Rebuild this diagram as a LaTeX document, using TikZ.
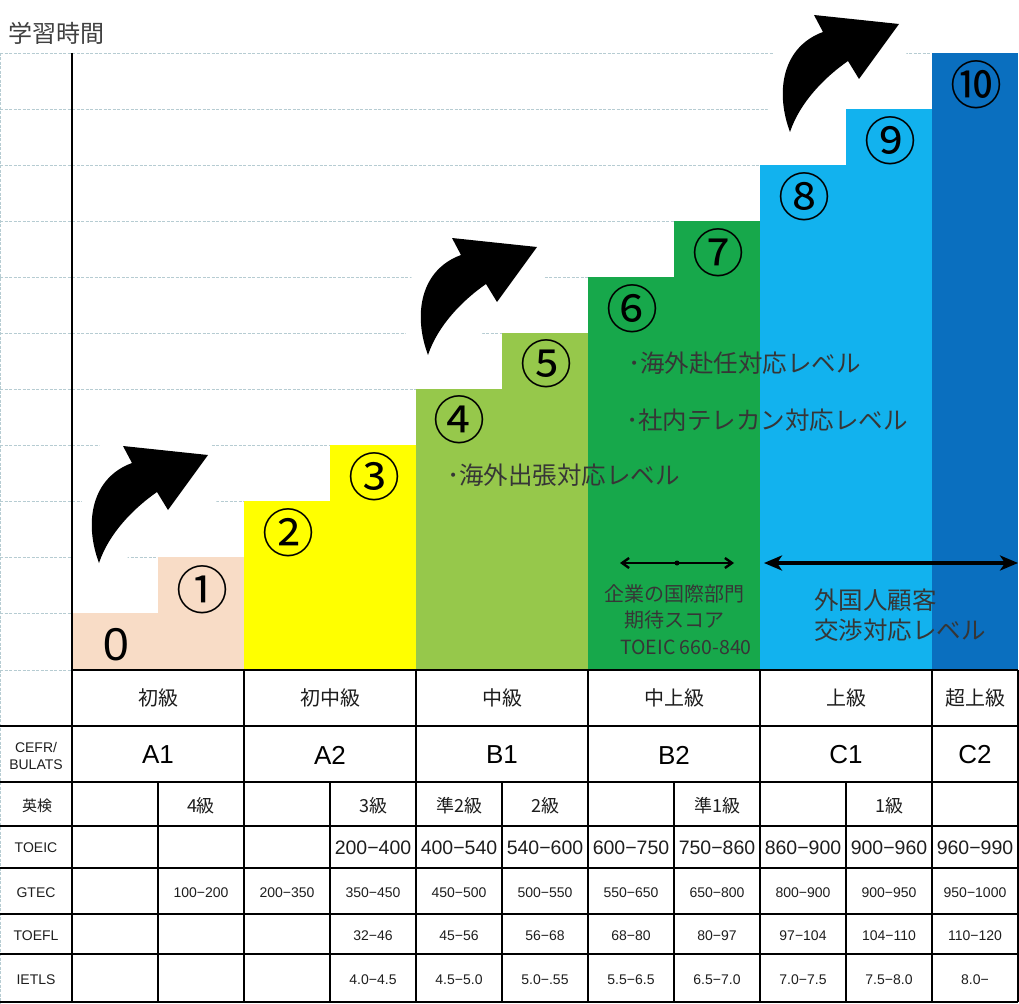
\documentclass[tikz,border=0pt]{standalone}
\usepackage{fontspec}
\setmainfont{Liberation Sans}
\newfontfamily\jp{Noto Sans CJK JP}
\usetikzlibrary{arrows.meta}
\definecolor{gridc}{HTML}{B6CCD2}
\definecolor{peach}{HTML}{F8DCC6}
\definecolor{yel}{HTML}{FFFF00}
\definecolor{lgreen}{HTML}{96C84B}
\definecolor{dgreen}{HTML}{17A84B}
\definecolor{lblue}{HTML}{12B2EE}
\definecolor{dblue}{HTML}{0A6FBF}
\definecolor{txtc}{HTML}{1E1E1E}
\definecolor{notec}{HTML}{363636}
\definecolor{titlec}{HTML}{404040}
\tikzset{
  gridline/.style={draw=gridc, line width=0.8pt, dash pattern=on 3pt off 1.5pt},
  tbl/.style={draw=black, line width=1.2pt},
  circnum/.style={font=\jp\fontsize{52}{52}\selectfont, inner sep=0pt, text=black},
  lvltext/.style={font=\jp\fontsize{20}{22}\selectfont, text=txtc, inner sep=0pt},
  cefrtext/.style={font=\fontsize{26}{28}\selectfont, text=black, inner sep=0pt},
  labtext/.style={font=\fontsize{14}{17}\selectfont, text=txtc, inner sep=0pt, align=center},
  eiken/.style={font=\jp\fontsize{18}{20}\selectfont, text=txtc, inner sep=0pt},
  toeic/.style={font=\fontsize{19.5}{20}\selectfont, text=txtc, inner sep=0pt},
  score/.style={font=\fontsize{14}{15}\selectfont, text=txtc, inner sep=0pt},
  note/.style={font=\jp\fontsize{24.5}{26}\selectfont, text=notec, inner sep=0pt},
  smallnote/.style={font=\jp\fontsize{20}{22}\selectfont, text=notec, inner sep=0pt},
  arrowbg/.pic={\fill[white] (-27,-2) -- (-18,-40) -- (-16,-90) -- (5,-125) -- (112,-125) -- (118,-62) -- (23,-2) -- cycle;},
  curvarrow/.pic={\fill[black] (0,0) .. controls (-15,-40) and (-8,-85) .. (33,-100) -- (24,-117) -- (109,-108) -- (69,-53) -- (58,-71) .. controls (35,-55) and (10,-30) .. (0,0) -- cycle;},
}
\begin{document}
\begin{tikzpicture}[x=1pt,y=-1pt]
\useasboundingbox (0,0) rectangle (1019,1003);
\fill[white] (0,0) rectangle (1019,1003);
% grid lines
\foreach \k in {0,...,10} \draw[gridline] (0,53+56*\k) -- (1018,53+56*\k);
\draw[gridline] (0,670) -- (72,670);
\draw[gridline] (0.6,53) -- (0.6,1003);
% white backgrounds of the curved arrows
\pic at (99,563) {arrowbg};
\pic at (428,355) {arrowbg};
\pic at (790,132) {arrowbg};
% bars
\fill[peach] (72,613) rectangle (158,670);
\fill[peach] (158,557) rectangle (244,670);
\fill[yel] (244,501) rectangle (330,670);
\fill[yel] (330,445) rectangle (416,670);
\fill[lgreen] (416,389) rectangle (502,670);
\fill[lgreen] (502,333) rectangle (588,670);
\fill[dgreen] (588,277) rectangle (674,670);
\fill[dgreen] (674,221) rectangle (760,670);
\fill[lblue] (760,165) rectangle (846,670);
\fill[lblue] (846,109) rectangle (932,670);
\fill[dblue] (932,53) rectangle (1018,670);
% axis and table
\draw[tbl] (72,53) -- (72,1002);
\draw[tbl] (72,670) -- (1018,670);
\foreach \y in {726,782,826,868,914,954,1002} \draw[tbl] (0,\y) -- (1018,\y);
\foreach \x in {244,416,588,760,932,1018} \draw[tbl] (\x,670) -- (\x,1002);
\foreach \x in {158,330,502,674,846} \draw[tbl] (\x,782) -- (\x,1002);
% title
\node[font=\jp\fontsize{24}{26}\selectfont, text=titlec, inner sep=0pt, anchor=west] (title) at (8,33) {学習時間};
% step numbers
\node[font=\fontsize{46}{46}\selectfont, inner sep=0pt] (n0) at (116,645) {0};
\foreach \x/\y/\t [count=\i] in {202/590/①, 288/533/②, 374/477/③, 459/420/④, 546/364/⑤, 632/309/⑥, 718/253/⑦, 804/197/⑧, 890/141/⑨, 976/85/⑩}
  \node[circnum] (n\i) at (\x,\y) {\t};
% notes
\node[note, anchor=west] (nt1) at (447,475) {･海外出張対応レベル};
\node[note, anchor=west] (nt2) at (628,363) {･海外赴任対応レベル};
\node[note, anchor=west] (nt3) at (626,420) {･社内テレカン対応レベル};
\node[smallnote] (nt4) at (674.5,594) {企業の国際部門};
\node[smallnote] (nt5) at (674,620) {期待スコア};
\node[smallnote, font=\jp\fontsize{19.5}{21}\selectfont] (nt6) at (686,647) {TOEIC 660-840};
\node[note, anchor=west] (nt7) at (814,600) {外国人顧客};
\node[note, anchor=west] (nt8) at (814,630) {交渉対応レベル};
% double arrows
\coordinate (sa) at (620,563);
\coordinate (sb) at (734,563);
\draw[line width=2.4pt, {Straight Barb[length=7pt,width=10pt]}-{Straight Barb[length=7pt,width=10pt]}] (sa) -- (sb);
\node[circle, fill=black, inner sep=0pt, minimum size=5pt] (sdot) at (677,563) {};
\coordinate (ba) at (764,563);
\coordinate (bb) at (1018,563);
\draw[line width=4.5pt, {Stealth[length=18pt,width=15pt,inset=5pt]}-{Stealth[length=18pt,width=15pt,inset=5pt]}] (ba) -- (bb);
% curved arrows
\pic at (99,563) {curvarrow};
\pic at (428,355) {curvarrow};
\pic at (790,132) {curvarrow};
% table row 1
\foreach \x/\t [count=\i] in {158/初級, 330/初中級, 502/中級, 674/中上級, 846/上級, 975/超上級}
  \node[lvltext] (lv\i) at (\x,698) {\t};
% row labels
\node[labtext] (lb1) at (36,756) {CEFR/\\BULATS};
\node[eiken, font=\jp\fontsize{15}{16}\selectfont] (lb2) at (37,806) {英検};
\node[labtext] (lb3) at (36,848) {TOEIC};
\node[labtext] (lb4) at (36,893) {GTEC};
\node[labtext] (lb5) at (36,936) {TOEFL};
\node[labtext] (lb6) at (36,980) {IETLS};
% CEFR
\foreach \x/\t [count=\i] in {158/A1, 330/A2, 502/B1, 674/B2, 846/C1, 975/C2}
  \node[cefrtext] (cf\i) at (\x,755) {\t};
% Eiken
\foreach \x/\t [count=\i] in {201/4級, 373/3級, 459/準2級, 545/2級, 717/準1級, 889/1級}
  \node[eiken] (ek\i) at (\x,806) {\t};
% TOEIC
\foreach \x/\t [count=\i] in {373/200−400, 459/400−540, 545/540−600, 631/600−750, 717/750−860, 803/860−900, 889/900−960, 975/960−990}
  \node[toeic] (to\i) at (\x,848) {\t};
% GTEC
\foreach \x/\t [count=\i] in {201/100−200, 287/200−350, 373/350−450, 459/450−500, 545/500−550, 631/550−650, 717/650−800, 803/800−900, 889/900−950, 975/950−1000}
  \node[score] (gt\i) at (\x,893) {\t};
% TOEFL
\foreach \x/\t [count=\i] in {373/32−46, 459/45−56, 545/56−68, 631/68−80, 717/80−97, 803/97−104, 889/104−110, 975/110−120}
  \node[score] (tf\i) at (\x,936) {\t};
% IELTS
\foreach \x/\t [count=\i] in {373/4.0−4.5, 459/4.5−5.0, 545/5.0−.55, 631/5.5−6.5, 717/6.5−7.0, 803/7.0−7.5, 889/7.5−8.0, 975/8.0−}
  \node[score] (ie\i) at (\x,980) {\t};
\end{tikzpicture}
\end{document}
